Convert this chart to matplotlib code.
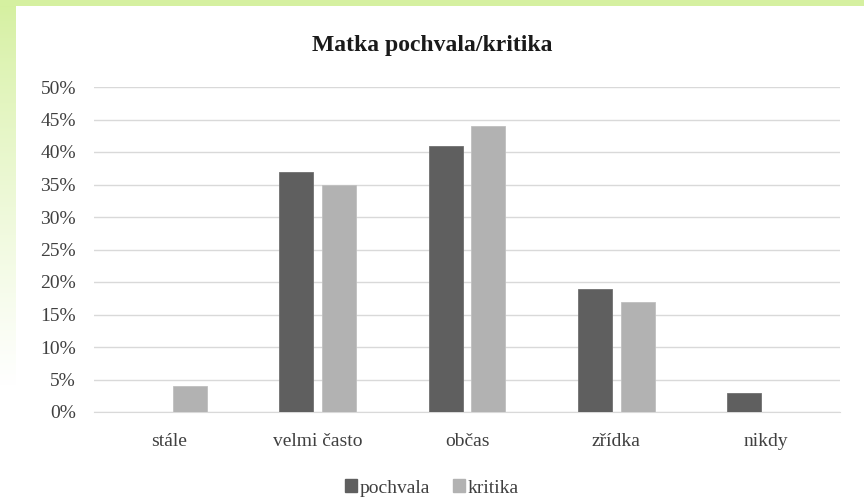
import numpy as np
import matplotlib.pyplot as plt
from matplotlib.ticker import PercentFormatter
from matplotlib.patches import Patch

kategorie = ["stále", "velmi často", "občas", "zřídka", "nikdy"]
pochvala = [0, 37, 41, 19, 3]
kritika = [4, 35, 44, 17, 0]

TMAVA = "#5f5f5f"
SVETLA = "#b2b2b2"

plt.rcParams["font.family"] = ["Liberation Serif", "DejaVu Serif"]

fig = plt.figure(figsize=(8.64, 4.99), dpi=100)

# zelený okraj nahoře a vlevo
pozadi = fig.add_axes([0, 0, 1, 1], zorder=-10)
pozadi.set_axis_off()
pozadi.axhspan(0, 6, color="#d5f0a0", lw=0)
prechod = np.clip(np.linspace(0, 1, 400) * 1.3, 0, 1).reshape(-1, 1) ** 0.8
zelena = np.array([0.835, 0.941, 0.627])
bila = np.array([1.0, 1.0, 1.0])
barvy = zelena * (1 - prechod[..., None]) + bila * prechod[..., None]
pozadi.imshow(barvy, extent=(0, 16, 499, 6), aspect="auto", interpolation="bilinear")
pozadi.set_xlim(0, 864)
pozadi.set_ylim(499, 0)

ax = fig.add_axes([94 / 864, 1 - 412 / 499, 746 / 864, 325 / 499])
x = np.arange(len(kategorie))
sirka = 0.228
posun = 0.144
ax.bar(x - posun, pochvala, sirka, color=TMAVA, edgecolor="#707070", linewidth=0.6, zorder=3)
ax.bar(x + posun, kritika, sirka, color=SVETLA, edgecolor="#c0c0c0", linewidth=0.6, zorder=3)

ax.set_xlim(-0.5, len(kategorie) - 0.5)
ax.set_ylim(0, 50)
ax.set_yticks(range(0, 51, 5))
ax.yaxis.set_major_formatter(PercentFormatter(decimals=0))
ax.grid(axis="y", color="#d9d9d9", linewidth=1, zorder=0)
for s in ["top", "right", "left"]:
    ax.spines[s].set_visible(False)
ax.spines["bottom"].set_color("#d9d9d9")
ax.tick_params(axis="both", length=0, labelsize=14, colors="#404040")
ax.tick_params(axis="y", pad=13)
ax.tick_params(axis="x", pad=15)
ax.set_xticks(x)
ax.set_xticklabels(kategorie)

fig.text(0.5, 1 - 45 / 499, "Matka pochvala/kritika", ha="center", va="center",
         fontsize=17, fontweight="bold", color="#1a1a1a")

fig.legend(handles=[Patch(color=TMAVA, label="pochvala"), Patch(color=SVETLA, label="kritika")],
           loc="center", bbox_to_anchor=(0.5, 1 - 488 / 499), ncol=2, frameon=False,
           fontsize=14, handlelength=0.6, handleheight=0.6, handletextpad=0.15,
           columnspacing=1.2, labelcolor="#404040", borderpad=0)

fig.savefig("out.png", dpi=100)
